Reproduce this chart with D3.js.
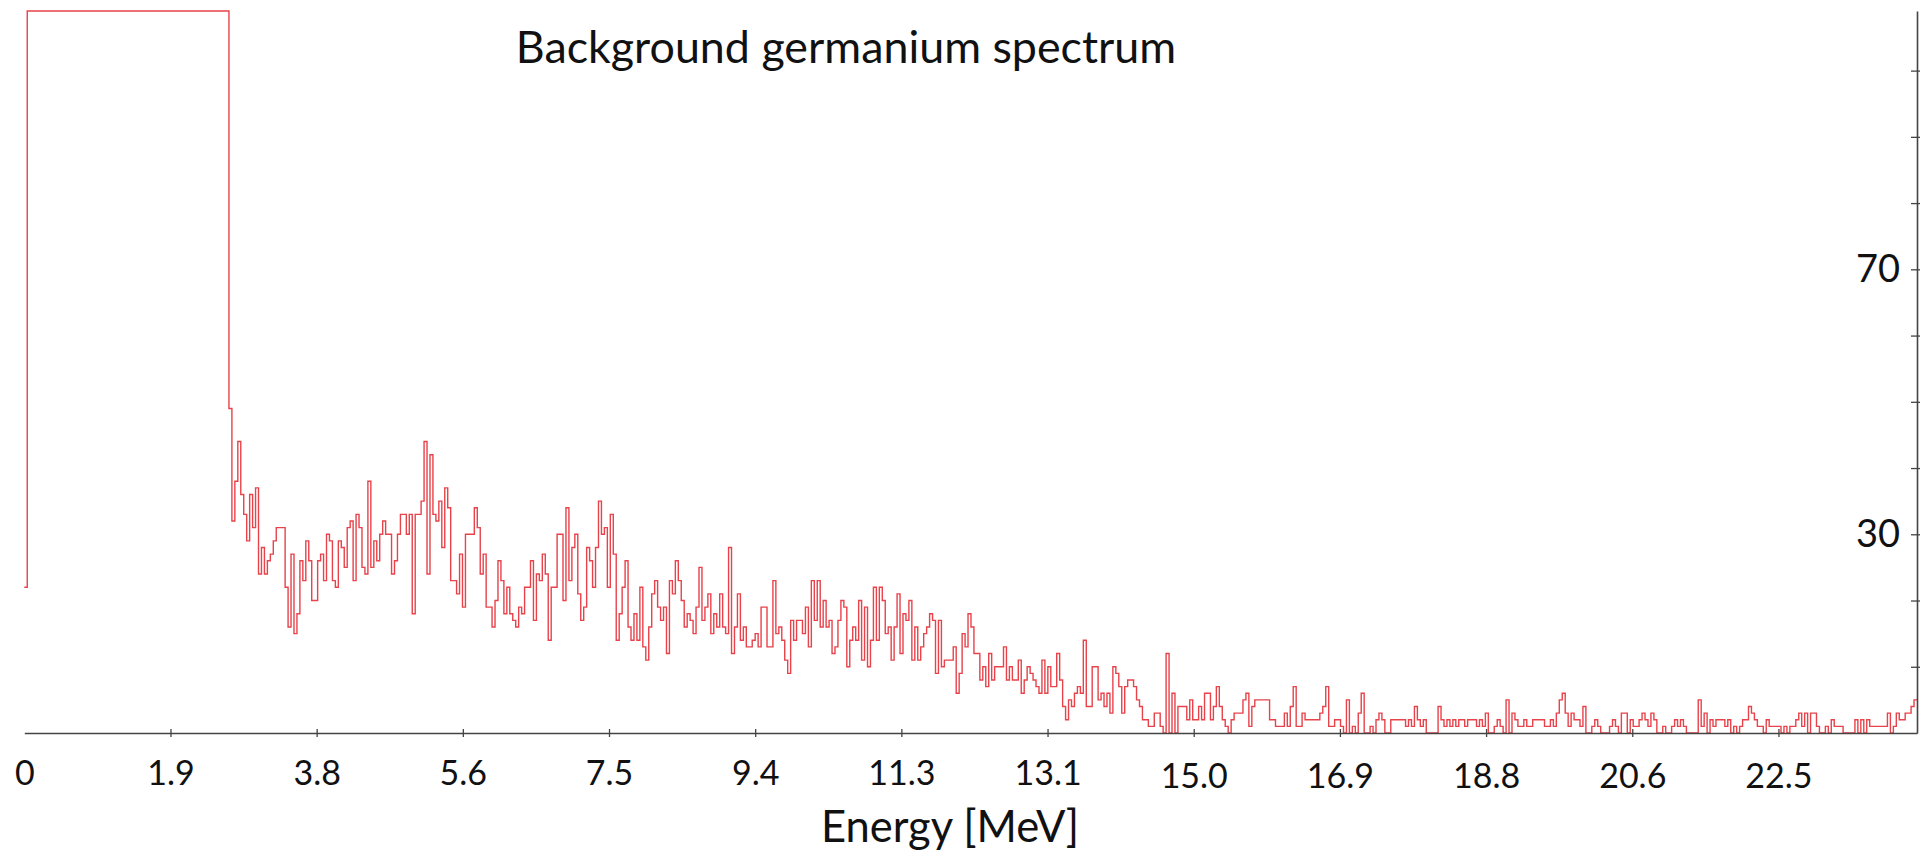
<!DOCTYPE html>
<html>
<head>
<meta charset="utf-8">
<script src="https://cdn.jsdelivr.net/npm/d3@7/dist/d3.min.js"></script>
<style>
  html, body { margin: 0; padding: 0; background: #fff; }
  svg { display: block; }
  text { font-family: Lato, "Open Sans", sans-serif; fill: #111; }
</style>
</head>
<body>
<div id="chart"></div>
<script>
// channel layout of the spectrum (MeV)
var binWidth = 0.03792;
var firstChannelCount = 22;   // channel 0, below threshold
var offScaleEnd = 2.625;      // channels up to here run off the top of the plot

// counts per channel, split by region
var counts_2_6 = [49,32,38,44,36,33,29,36,31,37,
  24,28,24,26,27,29,31,31,31,22,
  16,27,15,18,26,23,29,26,20,20,
  26,27,23,30,29,23,22,29,28,25,
  31,32,23,33,31,25,24,38,25,29,
  26,30,32,30,30,24,26,30,33,33,
  30,33,18,33,33,35,44,24,42,33,
  32,35,28,37,34,23,23,21,27,19,
  30,30,30,34,31,24,27,19,19,16,
  20,26,23,18,22,18,17,16,19,18,
  22,22,26,17,24,23,27,24,14,22,
  22,30,30,20];
var counts_7_0 = [34,23,28,30,21,17,19,28,26,22,
  28,35,30,31,22,33,27,14,18,22,
  26,16,14,18,14,22,13,11,16,21,
  23,19,17,19,12,23,21,26,23,20,
  16,18,17,15,19,25,17,19,21,15,
  18,16,21,16,15,28,12,16,21,14,
  16,13,13,14,15,13,19,19,13,13,
  23,15,16,14,11,9,17,14,17,17,
  15,19,13,23,17,23,16,20,16,17,
  12,13,17,20,19,10,14,16,14,20,
  11,19,10,14,22,14,22,20,15,16,
  11,16,21,12];
var counts_11_3 = [18,17,20,11,16,11,13,15,16,18,
  17,9,17,10,11,11,11,13,6,9,
  15,13,18,16,12,12,8,10,7,12,
  8,10,10,10,13,8,10,8,8,11,
  6,8,10,9,8,7,6,11,6,10,
  7,7,12,8,4,2,5,4,6,7,
  6,14,4,4,10,10,5,6,4,6,
  3,10,9,7,3,7,8,8,7,5,
  4,2,2,1,1,3,3,1,0,12,
  0,6,0,4,4,4,2,5,2,2,
  4,2,6,6,2,4,7,4,2,1,
  0,2,3,3];
var counts_15_6 = [3,5,6,1,4,5,5,5,5,5,
  2,2,1,1,1,3,1,4,7,1,
  1,3,2,2,2,2,2,3,4,7,
  1,1,2,2,1,0,5,0,1,0,
  3,6,0,0,1,0,2,3,2,0,
  0,2,2,2,2,2,1,2,1,4,
  2,1,2,0,0,0,0,4,2,1,
  2,1,2,1,2,2,1,2,2,2,
  1,2,1,3,0,0,1,2,1,0,
  5,0,3,2,1,1,2,1,1,2,
  2,2,2,1,1,2,1,3,5,6,
  3,1,3,2,2];
var counts_20_0 = [1,4,0,0,1,2,1,0,0,0,
  1,2,1,0,3,3,0,2,1,1,
  2,3,2,1,3,2,0,0,1,0,
  0,1,2,1,2,1,0,0,0,0,
  5,1,3,0,2,1,2,2,2,1,
  2,0,1,0,1,2,2,4,3,2,
  1,1,0,2,1,1,1,1,0,1,
  0,1,1,2,3,1,3,0,3,3,
  1,0,0,1,0,2,1,1,1,0,
  0,0,0,2,0,2,0,2,1,1,
  1,1,1,1,3,0,1,3,2,2,
  3,3,4,5];

var xTickStep = 1.875;
var xTickLabels = ["0", "1.9", "3.8", "5.6", "7.5", "9.4", "11.3", "13.1",
                   "15.0", "16.9", "18.8", "20.6", "22.5"];
var yTickValues = [10, 20, 30, 40, 50, 60, 70, 80, 90, 100];
var yTickLabels = { 30: "30", 70: "70" };
var yMax = 109;

var drawChart = function() {
  var width = 1926, height = 854;

  var counts = counts_2_6.concat(counts_7_0, counts_11_3, counts_15_6, counts_20_0);
  var energyMax = offScaleEnd + counts.length * binWidth;

  var x = d3.scaleLinear()
            .domain([0, energyMax])
            .range([24.3, 1917]);

  var y = d3.scaleLinear()
            .domain([0, yMax])
            .range([733, 11]);

  // step points: [energy at left edge, count]
  var steps = [[0, firstChannelCount], [binWidth, yMax]];
  counts.forEach(function(c, i) {
    steps.push([offScaleEnd + i * binWidth, c]);
  });
  steps.push([energyMax, counts[counts.length - 1]]);

  var spectrum_line = d3.line()
                        .x(function(d) { return x(d[0]); })
                        .y(function(d) { return y(Math.min(d[1], yMax)); })
                        .curve(d3.curveStepAfter);

  var svg = d3.select("#chart").append("svg")
              .attr("width", width)
              .attr("height", height);

  svg.append("path")
    .attr("d", spectrum_line(steps))
    .attr("fill", "none")
    .attr("stroke", "#e8424a")
    .attr("stroke-width", 1.4);

  // x axis along the bottom
  var xTicks = xTickLabels.map(function(l, i) { return i * xTickStep; });
  var xAxis = svg.append("g")
    .attr("transform", "translate(0,733)")
    .call(d3.axisBottom(x)
            .tickValues(xTicks)
            .tickSizeOuter(0)
            .tickSizeInner(4)
            .tickPadding(0)
            .tickFormat(function(d, i) { return xTickLabels[i]; }));
  xAxis.select(".domain").attr("stroke", "#444").attr("stroke-width", 1.6);
  xAxis.selectAll(".tick line")
    .attr("stroke", "#444").attr("stroke-width", 1.3)
    .attr("y1", -4)
    .style("display", function(d) { return d === 0 ? "none" : null; });
  xAxis.selectAll(".tick text")
    .attr("font-size", 34)
    .attr("font-family", null)
    .attr("dy", null)
    .attr("y", function(d, i) { return i >= 8 ? 55 : 52; });

  // y axis on the right, labels on its inner side
  var yAxis = svg.append("g")
    .attr("transform", "translate(1917,0)")
    .call(d3.axisLeft(y)
            .tickValues(yTickValues)
            .tickSizeOuter(0)
            .tickSizeInner(6)
            .tickPadding(11)
            .tickFormat(function(d) { return yTickLabels[d] || ""; }));
  yAxis.select(".domain").attr("stroke", "#444").attr("stroke-width", 1.6);
  yAxis.selectAll(".tick line")
    .attr("stroke", "#444").attr("stroke-width", 1.3)
    .attr("x1", 3);
  yAxis.selectAll(".tick text")
    .attr("font-size", 38)
    .attr("font-family", null);

  // x axis label
  var xLabel = svg.append("text")
    .style("text-anchor", "middle")
    .attr("x", 950)
    .attr("y", 842)
    .attr("font-size", 46)
    .text("Energy [MeV]");
  fitWidth(xLabel, 258);

  // chart title
  var title = svg.append("text")
    .style("text-anchor", "middle")
    .attr("x", 846)
    .attr("y", 63)
    .attr("font-size", 46)
    .text("Background germanium spectrum");
  fitWidth(title, 661);
};

function fitWidth(sel, target) {
  var len = sel.node().getComputedTextLength();
  var fs = parseFloat(sel.attr("font-size"));
  sel.attr("font-size", (fs * target / len).toFixed(1));
}

drawChart();
</script>
</body>
</html>
